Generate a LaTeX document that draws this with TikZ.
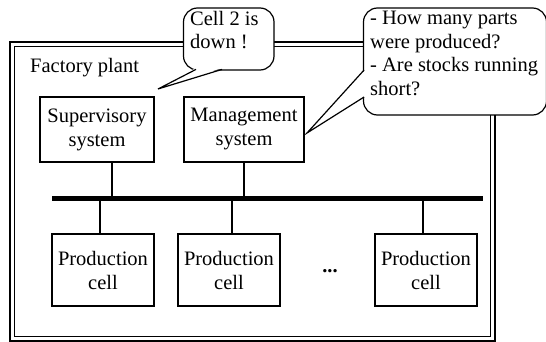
\documentclass[tikz,border=0pt]{standalone}
\usepackage{fontspec}
\setmainfont{Liberation Serif}
\begin{document}
\begin{tikzpicture}[x=1pt,y=-1pt,
  lw/.style={line width=1.2pt},
  blk/.style={draw,lw,rectangle,inner sep=0pt,align=center,font=\fontsize{20.5}{24}\selectfont},
  txt/.style={inner sep=0pt,align=left,anchor=north west,font=\fontsize{20.5}{23.5}\selectfont},
  bubble/.style={draw,lw,fill=white,rounded corners=14pt}]
\useasboundingbox (0,0) rectangle (546,342);
% frame
\draw[line width=1.3pt] (10,42) rectangle (495,341);
\draw[line width=1.3pt] (14.5,46.5) rectangle (490.5,336.5);
\node[inner sep=0pt,anchor=west,font=\fontsize{20.5}{23}\selectfont] (fp) at (30,68) {Factory plant};
% upper boxes
\node[blk,minimum width=114pt,minimum height=65pt] (sup) at (97,129.5) {Supervisory\\system};
\node[blk,minimum width=120pt,minimum height=65pt] (man) at (244,129.5) {Management\\system};
% bus
\coordinate (busL) at (52,198);
\coordinate (busR) at (483,198);
\draw[line width=5pt] (busL) -- (busR);
\coordinate (bs) at (112,198);
\coordinate (bm) at (244,198);
\draw[lw] (sup.south -| bs) -- (bs);
\draw[lw] (man.south) -- (bm);
% production cells
\node[blk,minimum width=102pt,minimum height=72pt] (p1) at (103,270) {Production\\cell};
\node[blk,minimum width=102pt,minimum height=72pt] (p2) at (229,270) {Production\\cell};
\node[blk,minimum width=102pt,minimum height=72pt] (p3) at (426,270) {Production\\cell};
\node[inner sep=0pt,font=\fontsize{20.5}{23}\selectfont\bfseries] (dots) at (330,271) {...};
\coordinate (b1) at (100,198);
\coordinate (b2) at (232,198);
\coordinate (b3) at (423,198);
\draw[lw] (b1) -- (p1.north -| b1);
\draw[lw] (b2) -- (p2.north -| b2);
\draw[lw] (b3) -- (p3.north -| b3);
% bubble 1
\draw[bubble] (183.5,8) rectangle (274,70);
\coordinate (t1) at (158,89);
\fill[white] (196,68) -- (t1) -- (222,68) -- cycle;
\draw[lw] (196,69.4) -- (t1) -- (222,69.4);
\node[txt] (c1) at (190,11) {Cell 2 is\\down !};
% bubble 2
\draw[bubble] (363.5,8) rectangle (546.5,115);
\coordinate (t2) at (307,133);
\fill[white] (365,70) -- (t2) -- (365,97) -- cycle;
\draw[lw] (364.1,70) -- (t2) -- (364.1,97);
\node[txt] (c2) at (370,11) {- How many parts\\were produced?\\- Are stocks running\\short?};
\end{tikzpicture}
\end{document}
